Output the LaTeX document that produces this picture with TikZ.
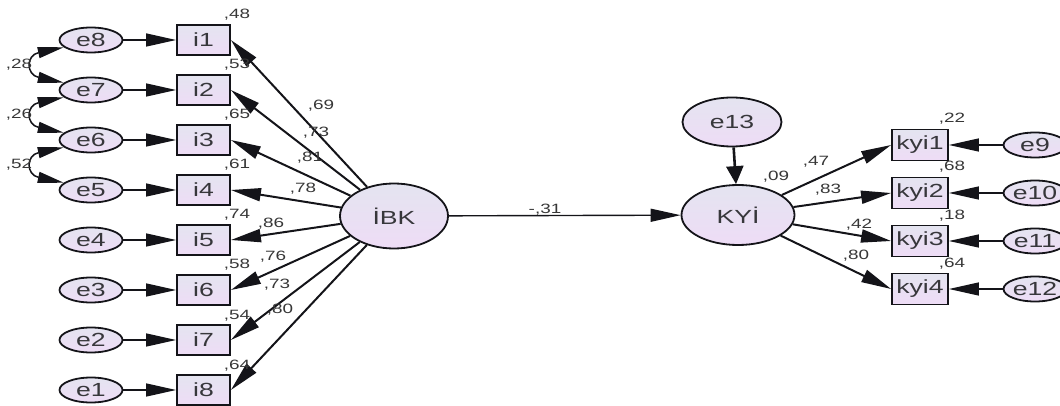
\documentclass[tikz,border=0pt]{standalone}
\usepackage{fontspec}
\setmainfont{Liberation Sans}[FakeStretch=1.4]
\usetikzlibrary{arrows.meta,shapes.geometric}
\definecolor{latTop}{RGB}{228,228,240}
\definecolor{latBot}{RGB}{238,220,246}
\definecolor{ink}{RGB}{20,20,25}
\definecolor{coef}{RGB}{55,55,55}
\tikzset{
  err/.style={ellipse,draw=ink,line width=1.8pt,top color=latTop,bottom color=latBot,
    minimum width=63pt,minimum height=25pt,inner sep=0pt,text=ink!85,
    font=\fontsize{19}{21}\selectfont},
  latent/.style={err,minimum width=108pt,minimum height=65pt},
  obs/.style={rectangle,draw=ink,line width=1.8pt,top color=latTop,bottom color=latBot,
    minimum width=53pt,minimum height=30pt,inner sep=0pt,text=ink!85,
    font=\fontsize{19}{21}\selectfont},
  coefs/.style={text=coef,inner sep=0pt,font=\fontsize{13.5}{15}\selectfont},
  reg/.style={draw=ink,line width=1.4pt,-{Triangle[length=30pt,width=13pt]}},
  loadarr/.style={reg,line width=2pt},
  cov/.style={draw=ink,line width=1.5pt,
    {Triangle[length=26pt,width=11pt]}-{Triangle[length=26pt,width=11pt]}},
  disturb/.style={draw=ink,line width=2.6pt,-{Triangle[length=18pt,width=17pt]}}
}
\begin{document}
\begin{tikzpicture}[x=1pt,y=-1pt]
  \useasboundingbox (0,0) rectangle (1060,406);
  % error terms of IBK items
  \node[err] (e8) at (91,40) {e8};
  \node[err] (e7) at (91,90) {e7};
  \node[err] (e6) at (91,140) {e6};
  \node[err] (e5) at (91,190) {e5};
  \node[err] (e4) at (91,240) {e4};
  \node[err] (e3) at (91,290) {e3};
  \node[err] (e2) at (91,340) {e2};
  \node[err] (e1) at (91,390) {e1};
  % IBK items
  \node[obs] (i1) at (203.5,40) {i1};
  \node[obs] (i2) at (203.5,90) {i2};
  \node[obs] (i3) at (203.5,140) {i3};
  \node[obs] (i4) at (203.5,190) {i4};
  \node[obs] (i5) at (203.5,240) {i5};
  \node[obs] (i6) at (203.5,290) {i6};
  \node[obs] (i7) at (203.5,340) {i7};
  \node[obs] (i8) at (203.5,390) {i8};
  % latent variables
  \node[latent] (ibk) at (394,216) {İBK};
  \node[latent,minimum width=113pt,minimum height=60pt] (kyi) at (738,215) {KYİ};
  \node[err,minimum width=99pt,minimum height=49pt] (e13) at (732,122) {e13};
  % KYI items and their errors
  \node[obs,minimum width=56pt,minimum height=31pt] (kyi1) at (920,145) {kyi1};
  \node[obs,minimum width=56pt,minimum height=31pt] (kyi2) at (920,193) {kyi2};
  \node[obs,minimum width=56pt,minimum height=31pt] (kyi3) at (920,241) {kyi3};
  \node[obs,minimum width=56pt,minimum height=31pt] (kyi4) at (920,289) {kyi4};
  \node[err] (e9) at (1035,145) {e9};
  \node[err] (e10) at (1035,193) {e10};
  \node[err] (e11) at (1035,241) {e11};
  \node[err] (e12) at (1035,289) {e12};
  % paths
  \draw[reg] (e8) -- (i1);
  \draw[reg] (e7) -- (i2);
  \draw[reg] (e6) -- (i3);
  \draw[reg] (e5) -- (i4);
  \draw[reg] (e4) -- (i5);
  \draw[reg] (e3) -- (i6);
  \draw[reg] (e2) -- (i7);
  \draw[reg] (e1) -- (i8);
  \draw[loadarr] (ibk) -- (i1.east);
  \draw[loadarr] (ibk) -- (i2.east);
  \draw[loadarr] (ibk) -- (i3.east);
  \draw[loadarr] (ibk) -- (i4.east);
  \draw[loadarr] (ibk) -- (i5.east);
  \draw[loadarr] (ibk) -- (i6.east);
  \draw[loadarr] (ibk) -- (i7.east);
  \draw[loadarr] (ibk) -- (i8.east);
  \draw[reg] (ibk) -- (kyi);
  \draw[disturb] (e13) -- (kyi);
  \draw[loadarr] (kyi) -- (kyi1.west);
  \draw[loadarr] (kyi) -- (kyi2.west);
  \draw[loadarr] (kyi) -- (kyi3.west);
  \draw[loadarr] (kyi) -- (kyi4.west);
  \draw[reg] (e9) -- (kyi1);
  \draw[reg] (e10) -- (kyi2);
  \draw[reg] (e11) -- (kyi3);
  \draw[reg] (e12) -- (kyi4);
  % covariances
  \draw[cov] (e8.195) .. controls +(-38,8) and +(-38,-8) .. (e7.165);
  \draw[cov] (e7.195) .. controls +(-38,8) and +(-38,-8) .. (e6.165);
  \draw[cov] (e6.195) .. controls +(-38,8) and +(-38,-8) .. (e5.165);
  \node[coefs] (c87) at (19,65) {,28};
  \node[coefs] (c76) at (19,115) {,26};
  \node[coefs] (c65) at (19,165) {,52};
  % squared multiple correlations
  \node[coefs] (r1) at (237,15) {,48};
  \node[coefs] (r2) at (237,65) {,53};
  \node[coefs] (r3) at (237,115) {,65};
  \node[coefs] (r4) at (237,165) {,61};
  \node[coefs] (r5) at (237,215) {,74};
  \node[coefs] (r6) at (237,265) {,58};
  \node[coefs] (r7) at (237,316) {,54};
  \node[coefs] (r8) at (237,366) {,64};
  \node[coefs] (rk1) at (952,119) {,22};
  \node[coefs] (rk2) at (952,167) {,68};
  \node[coefs] (rk3) at (952,216) {,18};
  \node[coefs] (rk4) at (952,264) {,64};
  \node[coefs] (rkyi) at (776,177) {,09};
  % loadings
  \node[coefs] (l1) at (321,106) {,69};
  \node[coefs] (l2) at (316,133) {,73};
  \node[coefs] (l3) at (310,158) {,81};
  \node[coefs] (l4) at (303,189) {,78};
  \node[coefs] (l5) at (271,224) {,86};
  \node[coefs] (l6) at (273,257) {,76};
  \node[coefs] (l7) at (277,285) {,73};
  \node[coefs] (l8) at (280,310) {,80};
  \node[coefs] (b1) at (545,210) {-,31};
  \node[coefs] (lk1) at (816,162) {,47};
  \node[coefs] (lk2) at (828,190) {,83};
  \node[coefs] (lk3) at (859,225) {,42};
  \node[coefs] (lk4) at (856,256) {,80};
\end{tikzpicture}
\end{document}
